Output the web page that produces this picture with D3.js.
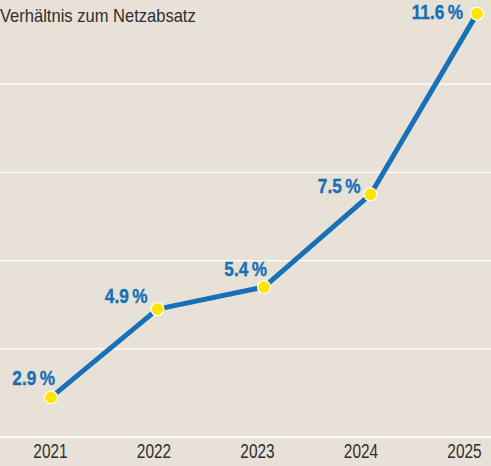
<!DOCTYPE html>
<html>
<head>
<meta charset="utf-8">
<script src="https://cdn.jsdelivr.net/npm/d3@7"></script>
<style>
  body { margin: 0; background: #e8e1d7; }
  svg { display: block; }
</style>
</head>
<body>
<svg width="491" height="466"></svg>
<script>
var svg = d3.select('svg');

// data
var years = ['2021', '2022', '2023', '2024', '2025'];
var shares = [2.9, 4.9, 5.4, 7.5, 11.6];
var gridValues = [4, 6, 8, 10];
var title = 'Verhältnis zum Netzabsatz';

// label placement next to each dot (layout only)
var labelDx = [4, -10, 3, -10, -14];
var labelDy = [-12, -6, -11, -1, 5];

var W = 491, H = 466;
var FONT = '"Liberation Sans", Arial, sans-serif';

// squeeze a text horizontally so it looks like a condensed face
function condense(sel, f) {
    sel.each(function(){
        var w = this.getComputedTextLength();
        d3.select(this)
            .attr('textLength', w * f)
            .attr('lengthAdjust', 'spacingAndGlyphs');
    });
}

svg.append('rect')
    .attr('width', W)
    .attr('height', H)
    .attr('fill', '#e8e1d7');

var x = d3.scalePoint()
    .domain(years)
    .range([51, 477]);

// the year labels sit a little left of the dots
var xLabels = d3.scalePoint()
    .domain(years)
    .range([50, 464]);

var y = d3.scaleLinear()
    .domain([2, 12])
    .range([437, -4]);

// grid
svg.selectAll('.grid')
    .data(gridValues)
    .enter()
    .append('line')
    .attr('x1', 0)
    .attr('x2', W)
    .attr('y1', function(d){ return y(d); })
    .attr('y2', function(d){ return y(d); })
    .attr('stroke', '#ffffff')
    .attr('stroke-width', 1.2);

// x axis
var xAxis = svg.append('g')
    .attr('transform', 'translate(0,' + y(2) + ')')
    .call(d3.axisBottom(xLabels).tickSize(0).tickPadding(7));

xAxis.select('.domain').remove();
svg.append('line')
    .attr('x1', 0)
    .attr('x2', W)
    .attr('y1', y(2))
    .attr('y2', y(2))
    .attr('stroke', '#ffffff')
    .attr('stroke-width', 1.5);

xAxis.selectAll('text')
    .attr('font-family', FONT)
    .attr('font-size', 20)
    .attr('fill', '#2f2f2f')
    .call(condense, 0.77);

svg.append('text')
    .attr('x', 0)
    .attr('y', 22)
    .attr('font-family', FONT)
    .attr('font-size', 19)
    .attr('fill', '#2f2f2f')
    .text(title)
    .call(condense, 0.87);

var points = years.map(function(yr, i){
    return {year: yr, value: shares[i], i: i};
});

var line = d3.line()
    .x(function(d){ return x(d.year); })
    .y(function(d){ return y(d.value); });

svg.append('path')
    .datum(points)
    .attr('d', line)
    .attr('fill', 'none')
    .attr('stroke', '#1770b8')
    .attr('stroke-width', 5)
    .attr('stroke-linejoin', 'round');

svg.selectAll('circle')
    .data(points)
    .enter()
    .append('circle')
    .attr('cx', function(d){ return x(d.year); })
    .attr('cy', function(d){ return y(d.value); })
    .attr('r', 6.5)
    .attr('fill', '#ffe600')
    .attr('stroke', '#ffffff')
    .attr('stroke-width', 1.2);

svg.selectAll('.lbl')
    .data(points)
    .enter()
    .append('text')
    .attr('x', function(d){ return x(d.year) + labelDx[d.i]; })
    .attr('y', function(d){ return y(d.value) + labelDy[d.i]; })
    .attr('text-anchor', 'end')
    .attr('font-family', FONT)
    .attr('font-weight', 'bold')
    .attr('font-size', 20)
    .attr('fill', '#1770b8')
    .attr('stroke', '#1770b8')
    .attr('stroke-width', 0.4)
    .text(function(d){ return d.value.toFixed(1) + '\u2009%'; })
    .call(condense, 0.86);
</script>
</body>
</html>
